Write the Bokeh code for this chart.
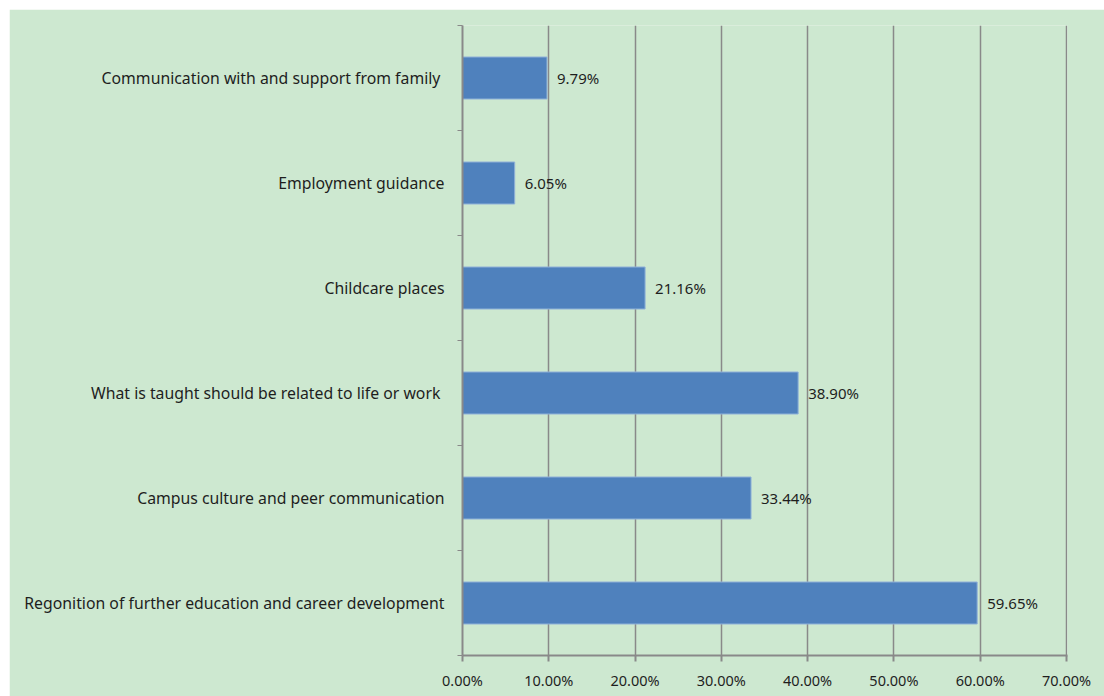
from bokeh.plotting import figure
from bokeh.models import ColumnDataSource, FixedTicker, NumeralTickFormatter, LabelSet, Range1d
from bokeh.core.properties import value
from bokeh.embed import file_html
from bokeh.resources import INLINE

# Data (bottom to top)
categories = [
    "Regonition of further education and career development",
    "Campus culture and peer communication",
    "What is taught  should be related to life or work",
    "Childcare places",
    "Employment guidance",
    "Communication with and  support from family",
]
values = [59.65, 33.44, 38.90, 21.16, 6.05, 9.79]
x_ticks = [0, 10, 20, 30, 40, 50, 60, 70]

BG = "#cde8d0"
GRID = "#898989"
FONT = "Noto Sans"
TXT = "#1e1e1e"

pos = [i + 0.5 for i in range(len(categories))]
src = ColumnDataSource(dict(
    y=pos,
    v=[v / 100 for v in values],
    lab=["%.2f%%" % v for v in values],
))

p = figure(width=1095, height=687, output_backend="svg", toolbar_location=None,
           x_range=Range1d(0, 0.7012), y_range=Range1d(0, len(categories)),
           min_border_left=453, min_border_right=37, min_border_top=16, min_border_bottom=41)
p.margin = (9, 0, 0, 9)
p.background_fill_color = BG
p.border_fill_color = BG
p.outline_line_color = None

p.hbar(y="y", right="v", left=0, height=0.4, source=src,
       fill_color="#4f81bd", line_color="#8fb0d8", line_width=1)

labels = LabelSet(x="v", y="y", text="lab", source=src, x_offset=10,
                  text_baseline="middle", text_align="left",
                  text_font=value(FONT), text_font_size="15px", text_color=TXT)
p.add_layout(labels)

# x axis
p.xaxis.ticker = FixedTicker(ticks=[t / 100 for t in x_ticks])
p.xaxis.formatter = NumeralTickFormatter(format="0.00%")
p.xaxis.axis_line_color = GRID
p.xaxis.axis_line_width = 2
p.xaxis.major_tick_line_color = GRID
p.xaxis.major_tick_line_width = 2
p.xaxis.major_tick_out = 6
p.xaxis.major_tick_in = 0
p.xaxis.minor_tick_line_color = None
p.xaxis.major_label_standoff = 8
p.xaxis.major_label_text_font = FONT
p.xaxis.major_label_text_font_size = "14.5px"
p.xaxis.major_label_text_color = TXT

# y axis: labels at centers, ticks at boundaries
p.yaxis.ticker = FixedTicker(ticks=pos, minor_ticks=list(range(len(categories) + 1)))
p.yaxis.major_label_overrides = {pp: c for pp, c in zip(pos, categories)}
p.yaxis.axis_line_color = GRID
p.yaxis.axis_line_width = 2
p.yaxis.major_tick_line_color = None
p.yaxis.major_tick_out = 0
p.yaxis.major_tick_in = 0
p.yaxis.minor_tick_line_color = GRID
p.yaxis.minor_tick_line_width = 1
p.yaxis.minor_tick_out = 5
p.yaxis.minor_tick_in = 0
p.yaxis.major_label_standoff = 13
p.yaxis.major_label_text_font = FONT
p.yaxis.major_label_text_font_size = "15.8px"
p.yaxis.major_label_text_color = TXT

p.xgrid.grid_line_color = GRID
p.xgrid.grid_line_width = 1.5
p.ygrid.grid_line_color = None

open("out.html", "w").write(file_html(p, INLINE))
